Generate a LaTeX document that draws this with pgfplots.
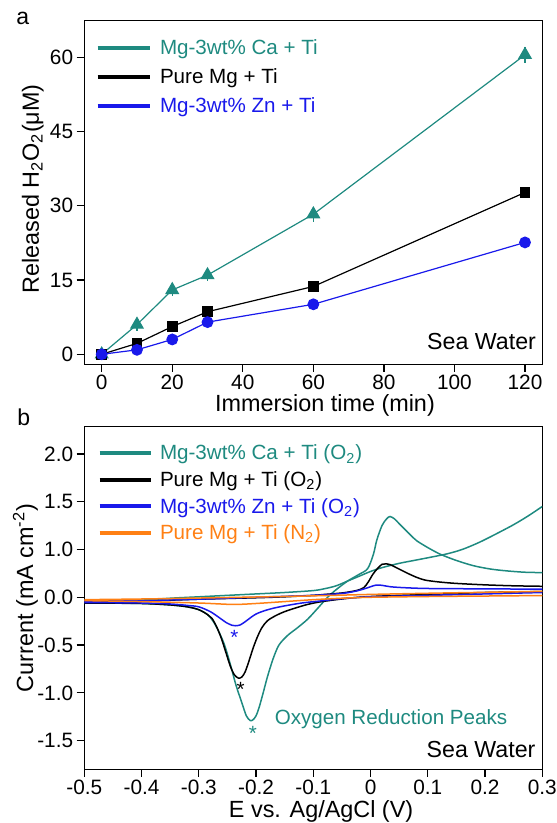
\documentclass[border=0pt]{standalone}
\usepackage{pgfplots}
\pgfplotsset{compat=1.18}
\usepackage{fontspec}
\setmainfont{Liberation Sans}
\definecolor{cteal}{RGB}{30,138,128}
\definecolor{cblue}{RGB}{25,25,235}
\definecolor{corange}{RGB}{255,128,20}
\newcommand{\legfont}{\fontsize{10.3}{12}\selectfont}
\newcommand{\swfont}{\fontsize{11.6}{13}\selectfont}

\begin{document}
\begin{tikzpicture}
\useasboundingbox (0,0) rectangle (278pt,411.5pt);
\pgfplotsset{
  common/.style={
    scale only axis,
    axis line style={line width=0.6pt},
    tick style={black, line width=0.6pt},
    major tick length=3.8pt,
    tick align=outside,
    xtick pos=bottom, ytick pos=left,
    xticklabel style={font=\fontsize{10.4}{12}\selectfont, inner sep=1.2pt},
    yticklabel style={font=\fontsize{10.4}{12}\selectfont, inner sep=1.6pt},
    /pgf/number format/assume math mode=true,
    label style={font=\fontsize{11.7}{14}\selectfont, inner sep=0pt},
    legend cell align=left,
    legend style={draw=none, fill=none, inner sep=0pt, outer sep=0pt, anchor=north west,
      font=\legfont,
      nodes={inner sep=0pt, text height=8.5pt, text depth=1.5pt}},
  },
}
% ---------------- panel a ----------------
\begin{axis}[common, at={(42.15pt,229.35pt)}, anchor=south west, width=229pt, height=171.8pt,
  xmin=-4.93, xmax=124.9, ymin=-2.02, ymax=67.4,
  xtick={0,20,40,60,80,100,120}, ytick={0,15,30,45,60},
  xlabel={Immersion time (min)},
  ylabel={Released H\textsubscript{2}O\textsubscript{2}(μM)},
  xlabel style={at={(axis description cs:0.5255,0)}, anchor=base, yshift=-23.6pt},
  ylabel style={at={(axis description cs:-0.099,0.51)}, anchor=base},
  legend image code/.code={\draw[#1, line width=2pt] (0pt,0pt) -- (26.25pt,0pt);},
  legend style={at={(rel axis cs:0,1)}, xshift=5.7pt, yshift=-8.65pt, row sep=4.5pt, column sep=3.9pt},
]
\addplot[cteal, line width=0.6pt, mark=triangle*, mark size=3.5pt,
  error bars/.cd, y dir=both, y explicit, error mark=none, error bar style={line width=0.6pt}]
  coordinates {(0,0) +- (0,0.8) (10,6.0) +- (0,1.2) (20,13.0) +- (0,1.3) (30,16.0) +- (0,1.2) (60,28.3) +- (0,1.5) (120,60.5) +- (0,1.6)};
\addlegendentry{\textcolor{cteal}{Mg-3wt\% Ca + Ti}}
\addplot[black, line width=0.6pt, mark=square*, mark size=2.4pt]
  coordinates {(0,0) (10,2.2) (20,5.6) (30,8.6) (60,13.7) (120,32.7)};
\addlegendentry{\textcolor{black}{Pure Mg + Ti}}
\addplot[cblue, line width=0.6pt, mark=*, mark size=2.65pt]
  coordinates {(0,0) (10,0.9) (20,3.0) (30,6.5) (60,10.1) (120,22.6)};
\addlegendentry{\textcolor{cblue}{Mg-3wt\% Zn + Ti}}
\node[anchor=base east, inner sep=0pt, xshift=-3pt, yshift=7.35pt, font=\swfont] at (rel axis cs:1,0) {Sea Water};
\end{axis}
% ---------------- panel b ----------------
\begin{axis}[common, at={(42.15pt,26.85pt)}, anchor=south west, width=229pt, height=171.3pt,
  xmin=-0.5, xmax=0.3, ymin=-1.80, ymax=1.785,
  xtick={-0.5,-0.4,-0.3,-0.2,-0.1,0,0.1,0.2,0.3},
  xticklabels={-0.5,-0.4,-0.3,-0.2,-0.1,0,0.1,0.2,0.3},
  ytick={-1.5,-1,-0.5,0,0.5,1,1.5},
  yticklabels={-1.5,-1.0,-0.5,0.0,1.0,1.5,2.0},
  xlabel={E vs. Ag/AgCl (V)},
  ylabel={Current (mA cm\textsuperscript{-2})},
  xlabel style={at={(axis description cs:0.517,0)}, anchor=base, yshift=-23.9pt},
  ylabel style={at={(axis description cs:-0.112,0.5)}, anchor=base},
  legend image code/.code={\draw[#1, line width=2pt] (0pt,0pt) -- (25.75pt,0pt);},
  legend style={at={(rel axis cs:0,1)}, xshift=6.6pt, yshift=-8.15pt, row sep=3.3pt, column sep=3.5pt},
]
% teal
\addplot[cteal, line width=0.75pt, smooth, tension=0.5] coordinates {
(-0.5,-0.055) (-0.45,-0.06) (-0.4,-0.065) (-0.35,-0.08) (-0.32,-0.10) (-0.30,-0.13) (-0.285,-0.18)
(-0.275,-0.25) (-0.265,-0.36) (-0.255,-0.50) (-0.245,-0.70) (-0.235,-0.92) (-0.225,-1.10)
(-0.217,-1.24) (-0.21,-1.29) (-0.205,-1.28) (-0.2,-1.24) (-0.195,-1.16) (-0.188,-1.01)
(-0.18,-0.83) (-0.17,-0.64) (-0.16,-0.50) (-0.145,-0.40) (-0.13,-0.33) (-0.11,-0.23)
(-0.09,-0.10) (-0.075,0.0) (-0.06,0.08) (-0.04,0.17) (-0.02,0.24) (-0.005,0.30)
(0.005,0.45) (0.011,0.60) (0.02,0.75) (0.028,0.82) (0.034,0.845) (0.042,0.82) (0.05,0.77)
(0.06,0.71) (0.07,0.65) (0.081,0.59) (0.1,0.52) (0.122,0.45) (0.15,0.385) (0.18,0.33)
(0.21,0.295) (0.24,0.275) (0.27,0.262) (0.3,0.258)};
\addlegendentry{\textcolor{cteal}{Mg-3wt\% Ca + Ti (O\textsubscript{2})}}
\addplot[cteal, line width=0.75pt, smooth, tension=0.5, forget plot] coordinates {
(-0.5,-0.04) (-0.45,-0.035) (-0.4,-0.03) (-0.35,-0.01) (-0.3,0.005) (-0.25,0.02) (-0.2,0.035)
(-0.15,0.05) (-0.1,0.07) (-0.08,0.09) (-0.06,0.12) (-0.04,0.17) (-0.02,0.22) (0.0,0.27)
(0.02,0.31) (0.05,0.355) (0.08,0.39) (0.11,0.425) (0.134,0.455) (0.16,0.5) (0.19,0.575)
(0.22,0.665) (0.25,0.76) (0.275,0.85) (0.3,0.95)};
% black
\addplot[black, line width=0.75pt, smooth, tension=0.5] coordinates {
(-0.5,-0.06) (-0.4,-0.065) (-0.35,-0.08) (-0.32,-0.10) (-0.30,-0.13) (-0.285,-0.18)
(-0.277,-0.22) (-0.268,-0.32) (-0.26,-0.44) (-0.252,-0.59) (-0.245,-0.72) (-0.238,-0.81)
(-0.231,-0.845) (-0.225,-0.835) (-0.219,-0.78) (-0.212,-0.66) (-0.205,-0.53) (-0.198,-0.42)
(-0.19,-0.32) (-0.18,-0.245) (-0.165,-0.19) (-0.15,-0.15) (-0.13,-0.11) (-0.11,-0.075)
(-0.09,-0.05) (-0.06,-0.025) (-0.03,-0.005) (0.0,0.008) (0.05,0.02) (0.1,0.03) (0.15,0.04)
(0.2,0.05) (0.25,0.055) (0.3,0.06)};
\addlegendentry{\textcolor{black}{Pure Mg + Ti (O\textsubscript{2})}}
\addplot[black, line width=0.75pt, smooth, tension=0.5, forget plot] coordinates {
(-0.5,-0.045) (-0.4,-0.04) (-0.3,-0.02) (-0.2,-0.005) (-0.15,0.005) (-0.1,0.02) (-0.08,0.03)
(-0.05,0.045) (-0.025,0.07) (-0.012,0.10) (-0.004,0.16) (0.004,0.24) (0.012,0.30) (0.02,0.345)
(0.027,0.35) (0.035,0.34) (0.045,0.31) (0.055,0.28) (0.065,0.25) (0.08,0.21) (0.095,0.18)
(0.12,0.16) (0.15,0.145) (0.2,0.13) (0.25,0.12) (0.3,0.115)};
% blue
\addplot[cblue, line width=0.75pt, smooth, tension=0.5] coordinates {
(-0.5,-0.055) (-0.4,-0.06) (-0.35,-0.07) (-0.32,-0.085) (-0.30,-0.10) (-0.28,-0.15)
(-0.265,-0.21) (-0.252,-0.265) (-0.242,-0.293) (-0.236,-0.298) (-0.228,-0.29) (-0.22,-0.26)
(-0.21,-0.215) (-0.2,-0.175) (-0.185,-0.14) (-0.17,-0.115) (-0.15,-0.09) (-0.12,-0.06)
(-0.09,-0.04) (-0.06,-0.02) (-0.03,-0.005) (0.0,0.005) (0.1,0.02) (0.2,0.035) (0.3,0.05)};
\addlegendentry{\textcolor{cblue}{Mg-3wt\% Zn + Ti (O\textsubscript{2})}}
\addplot[cblue, line width=0.75pt, smooth, tension=0.5, forget plot] coordinates {
(-0.5,-0.04) (-0.4,-0.035) (-0.3,-0.02) (-0.2,0.0) (-0.1,0.02) (-0.05,0.04) (-0.025,0.065)
(-0.01,0.09) (0.0,0.11) (0.01,0.128) (0.02,0.125) (0.035,0.11) (0.06,0.1) (0.1,0.092)
(0.2,0.088) (0.3,0.085)};
% orange
\addplot[corange, line width=0.75pt, smooth, tension=0.5] coordinates {
(-0.5,-0.035) (-0.4,-0.045) (-0.3,-0.06) (-0.24,-0.075) (-0.2,-0.065) (-0.15,-0.045)
(-0.1,-0.025) (-0.05,-0.01) (0.0,0.0) (0.1,0.008) (0.2,0.013) (0.3,0.018)};
\addlegendentry{\textcolor{corange}{Pure Mg + Ti (N\textsubscript{2})}}
\addplot[corange, line width=0.75pt, smooth, tension=0.5, forget plot] coordinates {
(-0.5,-0.025) (-0.4,-0.018) (-0.3,-0.008) (-0.2,0.003) (-0.1,0.015) (0.0,0.03) (0.1,0.042)
(0.2,0.052) (0.3,0.062)};
% annotations
\node[text=cblue, anchor=base, yshift=-6pt, inner sep=0pt, font=\legfont] at (axis cs:-0.2377,-0.37) {*};
\node[text=black, anchor=base, yshift=-6pt, inner sep=0pt, font=\legfont] at (axis cs:-0.2271,-0.917) {*};
\node[text=cteal, anchor=base, yshift=-6pt, inner sep=0pt, font=\legfont] at (axis cs:-0.2054,-1.37) {*};
\node[text=cteal, anchor=base west, inner sep=0pt, font=\legfont] at (axis cs:-0.168,-1.336) {Oxygen Reduction Peaks};
\node[anchor=base east, inner sep=0pt, xshift=-3.25pt, yshift=6.1pt, font=\swfont] at (rel axis cs:1,0) {Sea Water};
\end{axis}
\node[anchor=base west, inner sep=0pt, font=\fontsize{11.5}{14}\selectfont] at (8pt,399pt) {a};
\node[anchor=base west, inner sep=0pt, font=\fontsize{11.5}{14}\selectfont] at (8.5pt,198.5pt) {b};
\end{tikzpicture}
\end{document}
